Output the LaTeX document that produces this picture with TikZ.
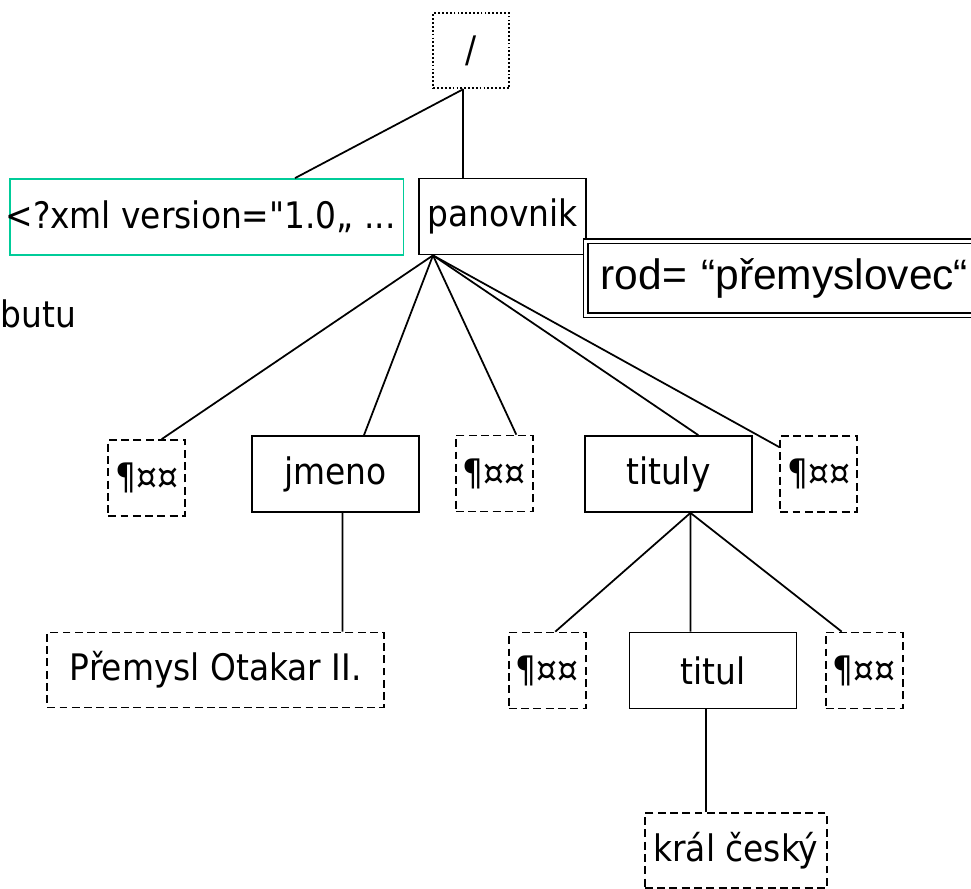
\documentclass[tikz,border=0pt]{standalone}
\usepackage{fontspec}
\setmainfont{DejaVu Sans Condensed}[Ligatures=TeXOff]
\newfontfamily\attrfont{Liberation Sans}
\usepackage{tikz}
\usetikzlibrary{positioning,calc}
\definecolor{declgreen}{RGB}{0,204,153}

\begin{document}
\begin{tikzpicture}[x=0.02cm, y=-0.02cm, line width=1pt,
    base/.style={font=\fontsize{20.8}{24}\selectfont, inner sep=0pt},
    elem box/.style={base, draw, minimum width=3.34cm, minimum height=1.52cm},
    ws box/.style={base, draw, dash pattern=on 4.5pt off 2.5pt, minimum width=1.54cm, minimum height=1.52cm},
    txt box/.style={base, draw, dash pattern=on 4.5pt off 2.5pt, minimum height=1.5cm},
    root box/.style={base, draw, dash pattern=on 1pt off 1.2pt, minimum width=1.52cm, minimum height=1.5cm},
    decl box/.style={base, draw=declgreen, minimum width=7.87cm, minimum height=1.52cm},
    attr box/.style={draw, double, line width=0.9pt, double distance=1.6pt, anchor=west, text width=7.7cm, inner xsep=0.3cm, inner ysep=0pt, minimum height=1.48cm, align=left, font=\attrfont\fontsize{24.2}{28}\selectfont}]
    \useasboundingbox (0,0) rectangle (971,889);
    \clip (0,0) rectangle (971,889);

    % top level
    \node[root box] (root) at (471.3,50.8) {/};
    \node[decl box, label={[base, anchor=west, xshift=-0.09cm]west:<?xml version="1.0„ ...}] (decl) at (206.7,217) {};
    \node[elem box] (pan) at (502.5,216.5) {panovnik};
    \node[attr box] (rod) at (585,278.3) {rod= “přemyslovec“};
    \node[base, anchor=base west] (note) at (0,327) {butu};

    % children of panovnik
    \node[ws box] (ws1) at (146.7,478) {¶¤¤};
    \node[elem box] (jmeno) at (335.5,474) {jmeno};
    \node[ws box] (ws2) at (494.3,473.5) {¶¤¤};
    \node[elem box] (tituly) at (668.3,474) {tituly};
    \node[ws box] (ws3) at (818.7,474) {¶¤¤};

    % third level
    \node[txt box, minimum width=6.74cm] (jmtext) at (215.7,670) {Přemysl Otakar II.};
    \node[ws box] (ws4) at (547.3,670.5) {¶¤¤};
    \node[elem box] (titul) at (713,670.5) {titul};
    \node[ws box] (ws5) at (864.2,670.5) {¶¤¤};
    \node[txt box, minimum width=3.64cm] (tittext) at (735.8,850.8) {král český};

    \draw ($(root.south)+(-8,0)$) -- ($(decl.north)+(88.3,0)$);
    \draw ($(root.south)+(-8,0)$) -- ($(pan.north)+(-39.2,0)$);

    \draw ($(pan.south)+(-69.5,0)$) -- ($(ws1.north)+(15,0)$);
    \draw ($(pan.south)+(-69.5,0)$) -- ($(jmeno.north)+(28.5,0)$);
    \draw ($(pan.south)+(-69.5,0)$) -- ($(ws2.north)+(22,0)$);
    \draw ($(pan.south)+(-69.5,0)$) -- ($(tituly.north)+(30,0)$);
    \draw ($(pan.south)+(-69.5,0)$) -- ($(ws3.north west)+(0,12)$);

    \draw ($(jmeno.south)+(7,0)$) -- ($(jmtext.north)+(126.8,0)$);

    \draw ($(tituly.south)+(22.2,0)$) -- ($(ws4.north)+(8,0)$);
    \draw ($(tituly.south)+(22.2,0)$) -- ($(titul.north)+(-22.5,0)$);
    \draw ($(tituly.south)+(22.2,0)$) -- ($(ws5.north)+(-22.5,0)$);

    \draw ($(titul.south)+(-7,0)$) -- ($(tittext.north)+(-29.8,0)$);
\end{tikzpicture}
\end{document}
